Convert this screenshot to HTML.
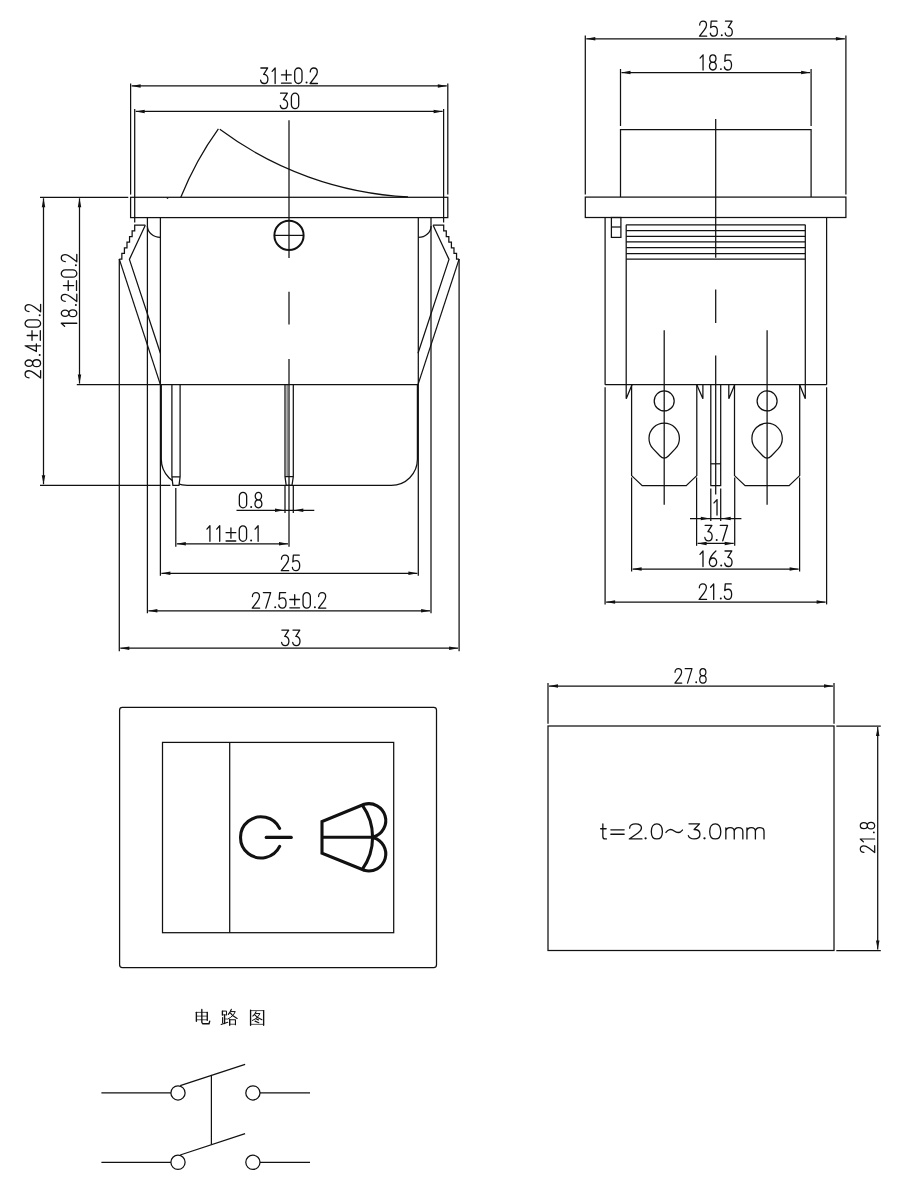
<!DOCTYPE html>
<html><head><meta charset="utf-8"><title>Rocker switch drawing</title>
<style>
html,body{margin:0;padding:0;background:#fff;}
body{width:910px;height:1200px;overflow:hidden;font-family:"Liberation Sans",sans-serif;}
svg{display:block;}
svg *{fill:none;stroke:#111;stroke-width:1.25;}
svg .a{fill:#111;stroke:none;}
svg .w{fill:#fff;}
svg .t *{stroke-width:1.3;stroke-linecap:round;stroke-linejoin:round;}
svg .t .a{fill:#111;stroke:none;}
svg .u *{stroke-width:1.3;}
</style></head><body>
<svg width="910" height="1200" viewBox="0 0 910 1200">
<line x1="130.6" y1="83.5" x2="130.6" y2="194.6"/>
<line x1="447.8" y1="83.5" x2="447.8" y2="194.6"/>
<line x1="131.6" y1="85.9" x2="446.8" y2="85.9"/>
<path class="a" d="M131.6,85.9 L140.6,84.15 L140.6,87.65 Z"/>
<path class="a" d="M446.8,85.9 L437.8,87.65 L437.8,84.15 Z"/>
<g class="t" transform="translate(260.6,68)"><path transform="translate(0,0)" d="M 0.26,0 L 7.04,0 L 3.09,6.37 C 5.67,6.37 7.3,8.21 7.3,10.89 C 7.3,13.65 5.75,15.5 3.61,15.5 C 1.63,15.5 0.26,14.21 0,12.18"/><path transform="translate(11.1,0)" d="M 0.43,3.32 L 3.44,0 L 3.44,15.5"/><path transform="translate(20.9,0)" d="M 0,6.92 L 9.7,6.92 M 4.85,2.12 L 4.85,12.36 M 0,15.22 L 9.7,15.22"/><path transform="translate(34.1,0)" d="M 0,3.92 A 3.65,3.92 0 0 1 7.3,3.92 L 7.3,11.58 A 3.65,3.92 0 0 1 0,11.58Z"/><circle class="a" cx="45.95" cy="14.6" r="1"/><path transform="translate(49.5,0)" d="M 0.17,3.97 C 0.17,1.48 1.63,0 3.69,0 C 5.75,0 7.21,1.48 7.21,3.88 C 7.21,5.81 6.36,7.2 4.81,9.23 L 0,15.5 L 7.39,15.5"/></g>
<line x1="134.7" y1="109" x2="134.7" y2="222.5"/>
<line x1="443.6" y1="109" x2="443.6" y2="222.5"/>
<line x1="135.7" y1="111.4" x2="442.6" y2="111.4"/>
<path class="a" d="M135.7,111.4 L144.7,109.65 L144.7,113.15 Z"/>
<path class="a" d="M442.6,111.4 L433.6,113.15 L433.6,109.65 Z"/>
<g class="t" transform="translate(280.3,93.2)"><path transform="translate(0,0)" d="M 0.26,0 L 7.04,0 L 3.09,6.37 C 5.67,6.37 7.3,8.21 7.3,10.89 C 7.3,13.65 5.75,15.5 3.61,15.5 C 1.63,15.5 0.26,14.21 0,12.18"/><path transform="translate(11.1,0)" d="M 0,3.92 A 3.65,3.92 0 0 1 7.3,3.92 L 7.3,11.58 A 3.65,3.92 0 0 1 0,11.58Z"/></g>
<rect x="130.6" y="197.3" width="317.2" height="20.3"/>
<path d="M180.8,197.3 Q195.8,160 218.4,128.8"/>
<path d="M219.8,129.3 A343.6,343.6 0 0 0 408,196.87"/>
<line x1="166.8" y1="198.2" x2="168.2" y2="198.2"/>
<line x1="289" y1="120.2" x2="289" y2="258"/>
<line x1="289" y1="291.8" x2="289" y2="324.4"/>
<line x1="289" y1="359" x2="289" y2="546.8"/>
<circle cx="289" cy="235.4" r="14.6" style="stroke-width:2"/>
<line x1="274.4" y1="235.4" x2="303.6" y2="235.4"/>
<line x1="160.4" y1="217.6" x2="160.4" y2="575.8"/>
<line x1="147.4" y1="217.6" x2="147.4" y2="613.2"/>
<line x1="418.3" y1="217.6" x2="418.3" y2="575.8"/>
<line x1="431" y1="217.6" x2="431" y2="613.2"/>
<path d="M147.4,226 A13,11.4 0 0 0 160.4,237.4"/>
<path d="M431.1,226 A12.7,11.4 0 0 1 418.4,237.4"/>
<line x1="40" y1="197.3" x2="128.3" y2="197.3"/>
<line x1="40" y1="485.3" x2="170.4" y2="485.3"/>
<path d="M145.3,225.2 L134.7,225.2 L134.7,230.85 L132.13,230.85 L132.13,236.5 L129.56,236.5 L129.56,242.15 L126.99,242.15 L126.99,247.8 L124.42,247.8 L124.42,253.45 L121.85,253.45 L121.85,259.1 L119.28,259.1"/>
<path d="M145.3,225.2 L129.4,259.4 L160.4,353.2"/>
<line x1="119.3" y1="259.1" x2="160.4" y2="384.6"/>
<line x1="119.3" y1="259.1" x2="119.3" y2="651.2"/>
<path d="M433.1,225.2 L443.7,225.2 L443.7,230.85 L446.27,230.85 L446.27,236.5 L448.84,236.5 L448.84,242.15 L451.41,242.15 L451.41,247.8 L453.98,247.8 L453.98,253.45 L456.55,253.45 L456.55,259.1 L459.12,259.1"/>
<path d="M433.1,225.2 L449,259.4 L418,353.2"/>
<line x1="459.1" y1="259.1" x2="418" y2="384.6"/>
<line x1="459.1" y1="259.1" x2="459.1" y2="651.2"/>
<path d="M161.3,384.6 L161.3,459.3 A26,26 0 0 0 187.3,485.3 L391.4,485.3 A26,26 0 0 0 417.4,459.3 L417.4,384.6"/>
<path d="M171.9,384.6 L171.9,476.8 L172.9,485.3 L179,485.3 L180.1,476.8 L180.1,384.6 M171.9,476.8 L180.1,476.8" class="w"/>
<path d="M285,384.6 L285,476.7 L286.2,485.3 L292,485.3 L293.3,476.7 L293.3,384.6 M285,476.7 L293.3,476.7"/>
<line x1="287.1" y1="384.6" x2="287.1" y2="476.7" style="stroke-width:0.8"/>
<line x1="76.8" y1="384.6" x2="418.4" y2="384.6"/>
<line x1="285" y1="485.3" x2="285" y2="513"/>
<line x1="293.3" y1="485.3" x2="293.3" y2="513"/>
<line x1="236.5" y1="510.3" x2="314.3" y2="510.3"/>
<path class="a" d="M284,510.3 L275,512.05 L275,508.55 Z"/>
<path class="a" d="M294.3,510.3 L303.3,508.55 L303.3,512.05 Z"/>
<g class="t" transform="translate(239.35,492.3)"><path transform="translate(0,0)" d="M 0,3.92 A 3.65,3.92 0 0 1 7.3,3.92 L 7.3,11.58 A 3.65,3.92 0 0 1 0,11.58Z"/><circle class="a" cx="11.85" cy="14.6" r="1"/><path transform="translate(15.4,0)" d="M 3.65,0 A 3.18,3.78 0 0 1 3.65,7.57 A 3.18,3.78 0 0 1 3.65,0Z M 3.65,7.57 A 3.65,3.97 0 0 1 3.65,15.5 A 3.65,3.97 0 0 1 3.65,7.57Z"/></g>
<line x1="175.8" y1="487.9" x2="175.8" y2="546.8"/>
<line x1="176.8" y1="543.8" x2="288" y2="543.8"/>
<path class="a" d="M176.8,543.8 L185.8,542.05 L185.8,545.55 Z"/>
<path class="a" d="M288,543.8 L279,545.55 L279,542.05 Z"/>
<g class="t" transform="translate(206.48,525.8)"><path transform="translate(0,0)" d="M 0.43,3.32 L 3.44,0 L 3.44,15.5"/><path transform="translate(9.8,0)" d="M 0.43,3.32 L 3.44,0 L 3.44,15.5"/><path transform="translate(19.6,0)" d="M 0,6.92 L 9.7,6.92 M 4.85,2.12 L 4.85,12.36 M 0,15.22 L 9.7,15.22"/><path transform="translate(32.8,0)" d="M 0,3.92 A 3.65,3.92 0 0 1 7.3,3.92 L 7.3,11.58 A 3.65,3.92 0 0 1 0,11.58Z"/><circle class="a" cx="44.65" cy="14.6" r="1"/><path transform="translate(48.2,0)" d="M 0.43,3.32 L 3.44,0 L 3.44,15.5"/></g>
<line x1="161.4" y1="573.3" x2="417.4" y2="573.3"/>
<path class="a" d="M161.4,573.3 L170.4,571.55 L170.4,575.05 Z"/>
<path class="a" d="M417.4,573.3 L408.4,575.05 L408.4,571.55 Z"/>
<g class="t" transform="translate(281.3,555.2)"><path transform="translate(0,0)" d="M 0.17,3.97 C 0.17,1.48 1.63,0 3.69,0 C 5.75,0 7.21,1.48 7.21,3.88 C 7.21,5.81 6.36,7.2 4.81,9.23 L 0,15.5 L 7.39,15.5"/><path transform="translate(11.1,0)" d="M 6.87,0 L 0.94,0 L 0.43,6.74 C 1.2,5.81 2.4,5.35 3.69,5.35 C 5.93,5.35 7.3,7.38 7.3,10.33 C 7.3,13.38 5.84,15.5 3.61,15.5 C 1.63,15.5 0.26,14.21 0,12.27"/></g>
<line x1="148.4" y1="610.8" x2="430.1" y2="610.8"/>
<path class="a" d="M148.4,610.8 L157.4,609.05 L157.4,612.55 Z"/>
<path class="a" d="M430.1,610.8 L421.1,612.55 L421.1,609.05 Z"/>
<g class="t" transform="translate(252.25,592.6)"><path transform="translate(0,0)" d="M 0.17,3.97 C 0.17,1.48 1.63,0 3.69,0 C 5.75,0 7.21,1.48 7.21,3.88 C 7.21,5.81 6.36,7.2 4.81,9.23 L 0,15.5 L 7.39,15.5"/><path transform="translate(11.1,0)" d="M 0,0 L 7.3,0 L 2.49,15.5"/><circle class="a" cx="22.95" cy="14.6" r="1"/><path transform="translate(26.5,0)" d="M 6.87,0 L 0.94,0 L 0.43,6.74 C 1.2,5.81 2.4,5.35 3.69,5.35 C 5.93,5.35 7.3,7.38 7.3,10.33 C 7.3,13.38 5.84,15.5 3.61,15.5 C 1.63,15.5 0.26,14.21 0,12.27"/><path transform="translate(37.6,0)" d="M 0,6.92 L 9.7,6.92 M 4.85,2.12 L 4.85,12.36 M 0,15.22 L 9.7,15.22"/><path transform="translate(50.8,0)" d="M 0,3.92 A 3.65,3.92 0 0 1 7.3,3.92 L 7.3,11.58 A 3.65,3.92 0 0 1 0,11.58Z"/><circle class="a" cx="62.65" cy="14.6" r="1"/><path transform="translate(66.2,0)" d="M 0.17,3.97 C 0.17,1.48 1.63,0 3.69,0 C 5.75,0 7.21,1.48 7.21,3.88 C 7.21,5.81 6.36,7.2 4.81,9.23 L 0,15.5 L 7.39,15.5"/></g>
<line x1="120.3" y1="648.2" x2="458.1" y2="648.2"/>
<path class="a" d="M120.3,648.2 L129.3,646.45 L129.3,649.95 Z"/>
<path class="a" d="M458.1,648.2 L449.1,649.95 L449.1,646.45 Z"/>
<g class="t" transform="translate(281.6,630.1)"><path transform="translate(0,0)" d="M 0.26,0 L 7.04,0 L 3.09,6.37 C 5.67,6.37 7.3,8.21 7.3,10.89 C 7.3,13.65 5.75,15.5 3.61,15.5 C 1.63,15.5 0.26,14.21 0,12.18"/><path transform="translate(11.1,0)" d="M 0.26,0 L 7.04,0 L 3.09,6.37 C 5.67,6.37 7.3,8.21 7.3,10.89 C 7.3,13.65 5.75,15.5 3.61,15.5 C 1.63,15.5 0.26,14.21 0,12.18"/></g>
<line x1="43.5" y1="198.3" x2="43.5" y2="484.3"/>
<path class="a" d="M43.5,198.3 L45.25,207.3 L41.75,207.3 Z"/>
<path class="a" d="M43.5,484.3 L41.75,475.3 L45.25,475.3 Z"/>
<g class="t" transform="translate(25.1,377.95) rotate(-90)"><path transform="translate(0,0)" d="M 0.17,3.97 C 0.17,1.48 1.63,0 3.69,0 C 5.75,0 7.21,1.48 7.21,3.88 C 7.21,5.81 6.36,7.2 4.81,9.23 L 0,15.5 L 7.39,15.5"/><path transform="translate(11.1,0)" d="M 3.65,0 A 3.18,3.78 0 0 1 3.65,7.57 A 3.18,3.78 0 0 1 3.65,0Z M 3.65,7.57 A 3.65,3.97 0 0 1 3.65,15.5 A 3.65,3.97 0 0 1 3.65,7.57Z"/><circle class="a" cx="22.95" cy="14.6" r="1"/><path transform="translate(26.5,0)" d="M 5.67,15.5 L 5.67,0 L 0,11.26 L 7.47,11.26"/><path transform="translate(37.6,0)" d="M 0,6.92 L 9.7,6.92 M 4.85,2.12 L 4.85,12.36 M 0,15.22 L 9.7,15.22"/><path transform="translate(50.8,0)" d="M 0,3.92 A 3.65,3.92 0 0 1 7.3,3.92 L 7.3,11.58 A 3.65,3.92 0 0 1 0,11.58Z"/><circle class="a" cx="62.65" cy="14.6" r="1"/><path transform="translate(66.2,0)" d="M 0.17,3.97 C 0.17,1.48 1.63,0 3.69,0 C 5.75,0 7.21,1.48 7.21,3.88 C 7.21,5.81 6.36,7.2 4.81,9.23 L 0,15.5 L 7.39,15.5"/></g>
<line x1="79.5" y1="198.3" x2="79.5" y2="383.6"/>
<path class="a" d="M79.5,198.3 L81.25,207.3 L77.75,207.3 Z"/>
<path class="a" d="M79.5,383.6 L77.75,374.6 L81.25,374.6 Z"/>
<g class="t" transform="translate(61.3,326.7) rotate(-90)"><path transform="translate(0,0)" d="M 0.43,3.32 L 3.44,0 L 3.44,15.5"/><path transform="translate(9.8,0)" d="M 3.65,0 A 3.18,3.78 0 0 1 3.65,7.57 A 3.18,3.78 0 0 1 3.65,0Z M 3.65,7.57 A 3.65,3.97 0 0 1 3.65,15.5 A 3.65,3.97 0 0 1 3.65,7.57Z"/><circle class="a" cx="21.65" cy="14.6" r="1"/><path transform="translate(25.2,0)" d="M 0.17,3.97 C 0.17,1.48 1.63,0 3.69,0 C 5.75,0 7.21,1.48 7.21,3.88 C 7.21,5.81 6.36,7.2 4.81,9.23 L 0,15.5 L 7.39,15.5"/><path transform="translate(36.3,0)" d="M 0,6.92 L 9.7,6.92 M 4.85,2.12 L 4.85,12.36 M 0,15.22 L 9.7,15.22"/><path transform="translate(49.5,0)" d="M 0,3.92 A 3.65,3.92 0 0 1 7.3,3.92 L 7.3,11.58 A 3.65,3.92 0 0 1 0,11.58Z"/><circle class="a" cx="61.35" cy="14.6" r="1"/><path transform="translate(64.9,0)" d="M 0.17,3.97 C 0.17,1.48 1.63,0 3.69,0 C 5.75,0 7.21,1.48 7.21,3.88 C 7.21,5.81 6.36,7.2 4.81,9.23 L 0,15.5 L 7.39,15.5"/></g>
<line x1="585.3" y1="35.5" x2="585.3" y2="194.4"/>
<line x1="845.9" y1="35.5" x2="845.9" y2="194.4"/>
<line x1="586.3" y1="38.8" x2="844.9" y2="38.8"/>
<path class="a" d="M586.3,38.8 L595.3,37.05 L595.3,40.55 Z"/>
<path class="a" d="M844.9,38.8 L835.9,40.55 L835.9,37.05 Z"/>
<g class="t" transform="translate(699.51,21.16) scale(0.97)"><path transform="translate(0,0)" d="M 0.17,3.97 C 0.17,1.48 1.63,0 3.69,0 C 5.75,0 7.21,1.48 7.21,3.88 C 7.21,5.81 6.36,7.2 4.81,9.23 L 0,15.5 L 7.39,15.5"/><path transform="translate(11.1,0)" d="M 6.87,0 L 0.94,0 L 0.43,6.74 C 1.2,5.81 2.4,5.35 3.69,5.35 C 5.93,5.35 7.3,7.38 7.3,10.33 C 7.3,13.38 5.84,15.5 3.61,15.5 C 1.63,15.5 0.26,14.21 0,12.27"/><circle class="a" cx="22.95" cy="14.6" r="1"/><path transform="translate(26.5,0)" d="M 0.26,0 L 7.04,0 L 3.09,6.37 C 5.67,6.37 7.3,8.21 7.3,10.89 C 7.3,13.65 5.75,15.5 3.61,15.5 C 1.63,15.5 0.26,14.21 0,12.18"/></g>
<line x1="620.5" y1="69" x2="620.5" y2="126"/>
<line x1="811.1" y1="69" x2="811.1" y2="126"/>
<line x1="621.5" y1="72.6" x2="810.1" y2="72.6"/>
<path class="a" d="M621.5,72.6 L630.5,70.85 L630.5,74.35 Z"/>
<path class="a" d="M810.1,72.6 L801.1,74.35 L801.1,70.85 Z"/>
<g class="t" transform="translate(699.68,54.81) scale(0.98)"><path transform="translate(0,0)" d="M 0.43,3.32 L 3.44,0 L 3.44,15.5"/><path transform="translate(9.8,0)" d="M 3.65,0 A 3.18,3.78 0 0 1 3.65,7.57 A 3.18,3.78 0 0 1 3.65,0Z M 3.65,7.57 A 3.65,3.97 0 0 1 3.65,15.5 A 3.65,3.97 0 0 1 3.65,7.57Z"/><circle class="a" cx="21.65" cy="14.6" r="1"/><path transform="translate(25.2,0)" d="M 6.87,0 L 0.94,0 L 0.43,6.74 C 1.2,5.81 2.4,5.35 3.69,5.35 C 5.93,5.35 7.3,7.38 7.3,10.33 C 7.3,13.38 5.84,15.5 3.61,15.5 C 1.63,15.5 0.26,14.21 0,12.27"/></g>
<path d="M620.5,197.1 L620.5,129.6 L811.1,129.6 L811.1,197.1"/>
<rect x="585.3" y="197.1" width="260.6" height="20.4"/>
<line x1="715.7" y1="119" x2="715.7" y2="257.8"/>
<line x1="715.7" y1="289.5" x2="715.7" y2="323"/>
<line x1="715.7" y1="355.4" x2="715.7" y2="494.6"/>
<line x1="605.1" y1="217.5" x2="605.1" y2="384.7"/>
<line x1="826.6" y1="217.5" x2="826.6" y2="384.7"/>
<line x1="605.1" y1="384.7" x2="826.6" y2="384.7"/>
<rect x="611.4" y="217.5" width="9.5" height="19.9"/>
<line x1="611.4" y1="227" x2="620.9" y2="227"/>
<line x1="626.2" y1="224.8" x2="805.3" y2="224.8"/>
<line x1="626.2" y1="230.5" x2="805.3" y2="230.5"/>
<line x1="626.2" y1="236.3" x2="805.3" y2="236.3"/>
<line x1="626.2" y1="241.9" x2="805.3" y2="241.9"/>
<line x1="626.2" y1="247.7" x2="805.3" y2="247.7"/>
<line x1="626.2" y1="253.5" x2="805.3" y2="253.5"/>
<line x1="626.2" y1="259.2" x2="805.3" y2="259.2"/>
<line x1="626.2" y1="224.8" x2="626.2" y2="384.7"/>
<line x1="805.3" y1="224.8" x2="805.3" y2="384.7"/>
<path d="M626.2,384.7 L626.2,398.7 L632,384.7"/>
<path d="M805.3,384.7 L805.3,398.7 L799.6,384.7"/>
<path d="M696.8,384.7 L702.9,398.7 L702.9,384.7"/>
<path d="M734.7,384.7 L728.8,398.7 L728.8,384.7"/>
<path d="M631.6,384.7 L631.6,475.6 L642.2,485.6 L686.2,485.6 L696.8,475.6 L696.8,384.7"/>
<line x1="664.2" y1="330.2" x2="664.2" y2="504.8"/>
<circle cx="664.2" cy="400.9" r="10"/>
<path d="M653.21,448.9 A15.2,15.2 0 1 1 675.19,448.9 L668.38,456.03 Q664.2,460.4 660.02,456.03 Z"/>
<path d="M734.5,384.7 L734.5,475.6 L745.1,485.6 L789.1,485.6 L799.7,475.6 L799.7,384.7"/>
<line x1="767.1" y1="330.2" x2="767.1" y2="504.8"/>
<circle cx="767.1" cy="400.9" r="10"/>
<path d="M756.11,448.9 A15.2,15.2 0 1 1 778.09,448.9 L771.28,456.03 Q767.1,460.4 762.92,456.03 Z"/>
<path d="M710.8,384.7 L710.8,485.6 L720.7,485.6 L720.7,384.7"/>
<line x1="710.8" y1="463.8" x2="720.7" y2="463.8"/>
<line x1="710.8" y1="488.6" x2="710.8" y2="521"/>
<line x1="720.7" y1="488.6" x2="720.7" y2="521"/>
<line x1="690" y1="518.6" x2="741.4" y2="518.6"/>
<path class="a" d="M709.8,518.6 L700.8,520.35 L700.8,516.85 Z"/>
<path class="a" d="M721.7,518.6 L730.7,516.85 L730.7,520.35 Z"/>
<g class="t" transform="translate(713.58,499.6)"><path transform="translate(0,0)" d="M 0.43,3.32 L 3.44,0 L 3.44,15.5"/></g>
<line x1="696.6" y1="477.5" x2="696.6" y2="545.8"/>
<line x1="734.7" y1="477.5" x2="734.7" y2="545.8"/>
<line x1="697.6" y1="543.4" x2="733.7" y2="543.4"/>
<path class="a" d="M697.6,543.4 L706.6,541.65 L706.6,545.15 Z"/>
<path class="a" d="M733.7,543.4 L724.7,545.15 L724.7,541.65 Z"/>
<g class="t" transform="translate(704.85,525.3)"><path transform="translate(0,0)" d="M 0.26,0 L 7.04,0 L 3.09,6.37 C 5.67,6.37 7.3,8.21 7.3,10.89 C 7.3,13.65 5.75,15.5 3.61,15.5 C 1.63,15.5 0.26,14.21 0,12.18"/><circle class="a" cx="11.85" cy="14.6" r="1"/><path transform="translate(15.4,0)" d="M 0,0 L 7.3,0 L 2.49,15.5"/></g>
<line x1="631.6" y1="477.5" x2="631.6" y2="571.5"/>
<line x1="799.6" y1="477.5" x2="799.6" y2="571.5"/>
<line x1="632.6" y1="569.1" x2="798.6" y2="569.1"/>
<path class="a" d="M632.6,569.1 L641.6,567.35 L641.6,570.85 Z"/>
<path class="a" d="M798.6,569.1 L789.6,570.85 L789.6,567.35 Z"/>
<g class="t" transform="translate(699.55,551)"><path transform="translate(0,0)" d="M 0.43,3.32 L 3.44,0 L 3.44,15.5"/><path transform="translate(9.8,0)" d="M 6.53,0 C 3.78,2.4 0,7.01 0,11.26 A 3.65,4.24 0 0 0 7.3,11.26 A 3.65,4.24 0 0 0 0,11.26"/><circle class="a" cx="21.65" cy="14.6" r="1"/><path transform="translate(25.2,0)" d="M 0.26,0 L 7.04,0 L 3.09,6.37 C 5.67,6.37 7.3,8.21 7.3,10.89 C 7.3,13.65 5.75,15.5 3.61,15.5 C 1.63,15.5 0.26,14.21 0,12.18"/></g>
<line x1="605.1" y1="387.3" x2="605.1" y2="604.4"/>
<line x1="826.6" y1="387.3" x2="826.6" y2="604.4"/>
<line x1="606.1" y1="602" x2="825.6" y2="602"/>
<path class="a" d="M606.1,602 L615.1,600.25 L615.1,603.75 Z"/>
<path class="a" d="M825.6,602 L816.6,603.75 L816.6,600.25 Z"/>
<g class="t" transform="translate(699.15,583.9)"><path transform="translate(0,0)" d="M 0.17,3.97 C 0.17,1.48 1.63,0 3.69,0 C 5.75,0 7.21,1.48 7.21,3.88 C 7.21,5.81 6.36,7.2 4.81,9.23 L 0,15.5 L 7.39,15.5"/><path transform="translate(11.1,0)" d="M 0.43,3.32 L 3.44,0 L 3.44,15.5"/><circle class="a" cx="21.65" cy="14.6" r="1"/><path transform="translate(25.2,0)" d="M 6.87,0 L 0.94,0 L 0.43,6.74 C 1.2,5.81 2.4,5.35 3.69,5.35 C 5.93,5.35 7.3,7.38 7.3,10.33 C 7.3,13.38 5.84,15.5 3.61,15.5 C 1.63,15.5 0.26,14.21 0,12.27"/></g>
<rect x="119.6" y="707.3" width="316.9" height="260.2" rx="2.8"/>
<rect x="162.5" y="742.4" width="231.2" height="190.3"/>
<line x1="229.7" y1="742.4" x2="229.7" y2="932.7"/>
<path d="M279.62,828.37 A20.6,20.6 0 1 0 279.62,846.43" style="stroke-width:3.1" stroke-linecap="round"/>
<line x1="266.2" y1="837.4" x2="291.3" y2="837.4" style="stroke-width:3.1" stroke-linecap="round"/>
<path d="M364.2,804.3 L322,821.5 L322,853.2 L364.2,870.3" style="stroke-width:3.1" stroke-linejoin="miter"/>
<line x1="322" y1="837.3" x2="373" y2="837.3" style="stroke-width:3.1"/>
<path d="M362.3,805.2 A55.2,55.2 0 0 1 362.3,869.4" style="stroke-width:3.1"/>
<path d="M364.2,804.3 A16.85,16.85 0 0 1 373.5,836.9 M373.5,837.7 A16.85,16.85 0 0 1 364.2,870.3" style="stroke-width:3.1" stroke-linecap="round"/>
<rect x="548" y="726" width="286" height="224.5"/>
<line x1="548" y1="683" x2="548" y2="723.7"/>
<line x1="834" y1="683" x2="834" y2="723.7"/>
<line x1="549" y1="686" x2="833" y2="686"/>
<path class="a" d="M549,686 L558,684.25 L558,687.75 Z"/>
<path class="a" d="M833,686 L824,687.75 L824,684.25 Z"/>
<g class="t" transform="translate(674.88,668.68) scale(0.93)"><path transform="translate(0,0)" d="M 0.17,3.97 C 0.17,1.48 1.63,0 3.69,0 C 5.75,0 7.21,1.48 7.21,3.88 C 7.21,5.81 6.36,7.2 4.81,9.23 L 0,15.5 L 7.39,15.5"/><path transform="translate(11.1,0)" d="M 0,0 L 7.3,0 L 2.49,15.5"/><circle class="a" cx="22.95" cy="14.6" r="1"/><path transform="translate(26.5,0)" d="M 3.65,0 A 3.18,3.78 0 0 1 3.65,7.57 A 3.18,3.78 0 0 1 3.65,0Z M 3.65,7.57 A 3.65,3.97 0 0 1 3.65,15.5 A 3.65,3.97 0 0 1 3.65,7.57Z"/></g>
<line x1="836.3" y1="726" x2="880.8" y2="726"/>
<line x1="836.3" y1="950.5" x2="880.8" y2="950.5"/>
<line x1="877.7" y1="727" x2="877.7" y2="949.5"/>
<path class="a" d="M877.7,727 L879.45,736 L875.95,736 Z"/>
<path class="a" d="M877.7,949.5 L875.95,940.5 L879.45,940.5 Z"/>
<g class="t" transform="translate(860.28,852.51) rotate(-90) scale(0.93)"><path transform="translate(0,0)" d="M 0.17,3.97 C 0.17,1.48 1.63,0 3.69,0 C 5.75,0 7.21,1.48 7.21,3.88 C 7.21,5.81 6.36,7.2 4.81,9.23 L 0,15.5 L 7.39,15.5"/><path transform="translate(11.1,0)" d="M 0.43,3.32 L 3.44,0 L 3.44,15.5"/><circle class="a" cx="21.65" cy="14.6" r="1"/><path transform="translate(25.2,0)" d="M 3.65,0 A 3.18,3.78 0 0 1 3.65,7.57 A 3.18,3.78 0 0 1 3.65,0Z M 3.65,7.57 A 3.65,3.97 0 0 1 3.65,15.5 A 3.65,3.97 0 0 1 3.65,7.57Z"/></g>
<g class="t u"><path transform="translate(600.65,823.85)" d="M 2.2,0 L 2.2,12.57 Q 2.2,15.1 4.7,15.1 L 5.8,15.1 M 0,4.88 L 5.5,4.88"/><path transform="translate(610.85,823.85)" d="M 0,6 L 13.3,6 M 0,10.41 L 13.3,10.41"/><path transform="translate(629.27,823.85)" d="M 0.38,4.31 C 0.38,1.69 2.74,0 6.34,0 C 9.84,0 12.2,1.69 12.2,4.22 C 12.2,6.19 10.97,7.5 8.7,9.1 L 0,15.1 L 12.68,15.1"/><circle class="a" cx="645.6" cy="838.35" r="1.15"/><path transform="translate(651.3,823.85)" d="M 5.55,0 C 2.13,0 0,2.81 0,7.55 C 0,12.29 2.13,15.1 5.55,15.1 C 8.97,15.1 11.1,12.29 11.1,7.55 C 11.1,2.81 8.97,0 5.55,0Z"/><path transform="translate(665.95,823.85)" d="M 0,8.63 C 2.34,5.25 5.16,4.78 8.25,7.13 C 11.25,9.47 14.06,9.19 16.5,6.19"/><path transform="translate(688.35,823.85)" d="M 0.64,0 L 11.14,0 L 5.75,5.63 C 9.13,5.63 11.6,7.41 11.6,10.41 C 11.6,13.41 9.04,15.1 5.84,15.1 C 2.83,15.1 0.64,13.88 0,11.82"/><circle class="a" cx="704.5" cy="838.35" r="1.15"/><path transform="translate(709.7,823.85)" d="M 5.55,0 C 2.13,0 0,2.81 0,7.55 C 0,12.29 2.13,15.1 5.55,15.1 C 8.97,15.1 11.1,12.29 11.1,7.55 C 11.1,2.81 8.97,0 5.55,0Z"/><path transform="translate(725.85,823.85)" d="M 0,3.94 L 0,15.1 M 0,7.69 C 0,5.25 1.84,3.75 4.35,3.75 C 6.86,3.75 8.4,5.25 8.4,7.69 L 8.4,15.1 M 8.4,7.69 C 8.4,5.25 10.24,3.75 12.75,3.75 C 15.26,3.75 17,5.25 17,7.69 L 17,15.1"/><path transform="translate(746.95,823.85)" d="M 0,3.94 L 0,15.1 M 0,7.69 C 0,5.25 1.84,3.75 4.37,3.75 C 6.89,3.75 8.44,5.25 8.44,7.69 L 8.44,15.1 M 8.44,7.69 C 8.44,5.25 10.28,3.75 12.8,3.75 C 15.33,3.75 17.07,5.25 17.07,7.69 L 17.07,15.1"/></g>
<line x1="101.4" y1="1092.9" x2="170.9" y2="1092.9"/>
<circle cx="178" cy="1092.9" r="7.1"/>
<circle cx="252.9" cy="1092.9" r="7.1"/>
<line x1="260" y1="1092.9" x2="310" y2="1092.9"/>
<line x1="180.2" y1="1085.6" x2="245.1" y2="1064.3"/>
<line x1="101.4" y1="1162.3" x2="170.9" y2="1162.3"/>
<circle cx="178" cy="1162.3" r="7.1"/>
<circle cx="252.9" cy="1162.3" r="7.1"/>
<line x1="260" y1="1162.3" x2="310" y2="1162.3"/>
<line x1="180.2" y1="1155" x2="245.1" y2="1133.7"/>
<line x1="211.4" y1="1074.9" x2="211.4" y2="1144.4"/>
<path d="M196.37,1012.36 L196.37,1021.27" style="stroke-width:1.35" stroke-linecap="round" stroke-linejoin="round"/>
<path d="M196.37,1012.36 L207.26,1012.36" style="stroke-width:0.75" stroke-linecap="round" stroke-linejoin="round"/>
<path d="M207.26,1012.36 L207.26,1020.28" style="stroke-width:1.35" stroke-linecap="round" stroke-linejoin="round"/>
<path d="M196.37,1016.12 L207.26,1016.12" style="stroke-width:0.75" stroke-linecap="round" stroke-linejoin="round"/>
<path d="M196.37,1019.78 L207.26,1019.78" style="stroke-width:0.75" stroke-linecap="round" stroke-linejoin="round"/>
<path d="M201.82,1009.4 L201.82,1022.26 L202.61,1023.74 L209.04,1023.74 L209.73,1021.17" style="stroke-width:1.35" stroke-linecap="round" stroke-linejoin="round"/>
<path d="M222.39,1011.08 L222.39,1015.03" style="stroke-width:1.35" stroke-linecap="round" stroke-linejoin="round"/>
<path d="M222.39,1011.08 L226.54,1011.08 L226.54,1014.84" style="stroke-width:1" stroke-linecap="round" stroke-linejoin="round"/>
<path d="M222.39,1014.84 L226.54,1014.84" style="stroke-width:0.75" stroke-linecap="round" stroke-linejoin="round"/>
<path d="M224.56,1014.84 L224.56,1023.54" style="stroke-width:1.35" stroke-linecap="round" stroke-linejoin="round"/>
<path d="M224.56,1018.99 L227.33,1018.99" style="stroke-width:0.75" stroke-linecap="round" stroke-linejoin="round"/>
<path d="M222.59,1017.61 L222.59,1022.95" style="stroke-width:1.1" stroke-linecap="round" stroke-linejoin="round"/>
<path d="M221.1,1024.43 L227.73,1022.35" style="stroke-width:1.1" stroke-linecap="round" stroke-linejoin="round"/>
<path d="M231.29,1009.4 L230,1012.07 L228.32,1014.34" style="stroke-width:1.2" stroke-linecap="round" stroke-linejoin="round"/>
<path d="M230.99,1011.57 L235.25,1011.57 L233.47,1014.84 L230.7,1017.31 L228.03,1018.99" style="stroke-width:1" stroke-linecap="round" stroke-linejoin="round"/>
<path d="M230.5,1013.06 L232.97,1015.83 L237.13,1018.4" style="stroke-width:1.2" stroke-linecap="round" stroke-linejoin="round"/>
<path d="M229.71,1019.49 L229.71,1025.22" style="stroke-width:1.35" stroke-linecap="round" stroke-linejoin="round"/>
<path d="M229.71,1019.78 L235.45,1019.78 L235.45,1024.73" style="stroke-width:1.1" stroke-linecap="round" stroke-linejoin="round"/>
<path d="M229.71,1024.23 L235.45,1024.23" style="stroke-width:0.75" stroke-linecap="round" stroke-linejoin="round"/>
<path d="M250.58,1010.09 L250.58,1025.22" style="stroke-width:1.35" stroke-linecap="round" stroke-linejoin="round"/>
<path d="M250.58,1010.58 L263.64,1010.58" style="stroke-width:0.75" stroke-linecap="round" stroke-linejoin="round"/>
<path d="M263.64,1010.58 L263.64,1025.22" style="stroke-width:1.35" stroke-linecap="round" stroke-linejoin="round"/>
<path d="M250.58,1024.33 L263.64,1024.33" style="stroke-width:0.75" stroke-linecap="round" stroke-linejoin="round"/>
<path d="M256.02,1011.67 L254.73,1014.05 L252.75,1016.02" style="stroke-width:1.1" stroke-linecap="round" stroke-linejoin="round"/>
<path d="M255.72,1013.55 L259.98,1013.55 L258,1016.62 L255.23,1018.99 L252.26,1020.47" style="stroke-width:1" stroke-linecap="round" stroke-linejoin="round"/>
<path d="M254.73,1014.84 L257.7,1017.61 L261.95,1019.78" style="stroke-width:1.1" stroke-linecap="round" stroke-linejoin="round"/>
<path d="M256.02,1018.79 L258.39,1019.88" style="stroke-width:1.2" stroke-linecap="round" stroke-linejoin="round"/>
<path d="M255.03,1021.17 L258.79,1022.75" style="stroke-width:1.2" stroke-linecap="round" stroke-linejoin="round"/>
</svg>
</body></html>
